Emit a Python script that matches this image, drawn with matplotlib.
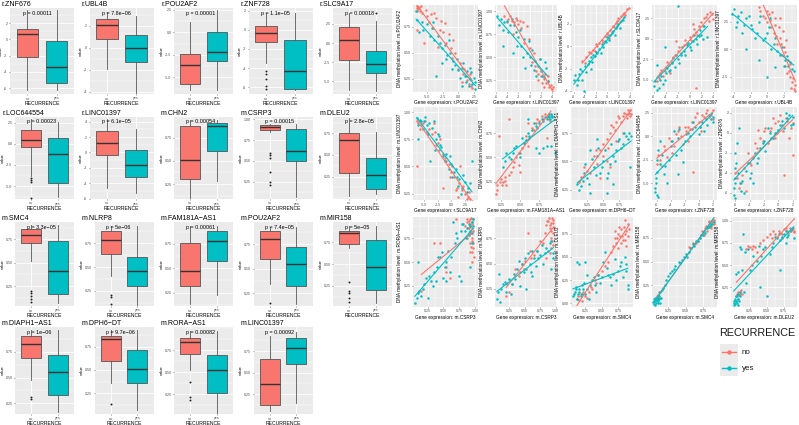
import numpy as np
import matplotlib
matplotlib.use('Agg')
import matplotlib.pyplot as plt
from matplotlib.ticker import FixedLocator, AutoMinorLocator, FormatStrFormatter
from matplotlib.patches import Rectangle

plt.rcParams['axes.unicode_minus'] = False
plt.rcParams['font.family'] = ['Liberation Sans', 'DejaVu Sans']

W, H = 799, 425
RED = '#F8766D'
TEAL = '#00BFC4'
BG = '#EBEBEB'

# ---------------- boxplot data ----------------
box_titles = ['r.ZNF676', 'r.UBL4B', 'r.POU2AF2', 'r.ZNF728', 'r.SLC9A17',
              'r.LOC644554', 'r.LINC01397', 'm.CHN2', 'm.CSRP3', 'm.DLEU2',
              'm.SMC4', 'm.NLRP8', 'm.FAM181A−AS1', 'm.POU2AF2', 'm.MIR158',
              'm.DIAPH1−AS1', 'm.DPH6−DT', 'm.RORA−AS1', 'm.LINC01397']
box_p = ['p = 0.00011', 'p = 7.8e−06', 'p = 0.00001', 'p = 1.1e−05', 'p = 0.00018',
         'p = 0.00023', 'p = 6.1e−05', 'p = 0.00054', 'p = 0.00015', 'p = 2.8e−05',
         'p = 3.3e−05', 'p = 5e−06', 'p = 0.00061', 'p = 7.4e−05', 'p = 5e−05',
         'p = 1e−06', 'p = 9.7e−06', 'p = 0.00082', 'p = 0.00092']
# (whislo, q1, median, q3, whishi)
box_no = [(-6.2, -2.2, 0.6, 1.26, 3.6), (-1.9, 0.77, 2.09, 2.62, 3.3),
          (-6.4, -5.8, -3.6, -2.4, 1.2), (-3.5, -1.25, -0.3, 0.35, 1.8),
          (-6.2, -2.2, 0.45, 2.15, 3.9),
          (-3.85, -0.4, 0.5, 1.6, 3.0), (-4.6, -0.3, 1.2, 2.85, 4.4),
          (0.10, 0.30, 0.51, 0.875, 0.94), (0.85, 0.87, 0.91, 0.935, 0.95),
          (0.02, 0.29, 0.67, 0.76, 0.93),
          (0.52, 0.71, 0.80, 0.857, 0.90), (0.41, 0.64, 0.79, 0.88, 0.93),
          (0.13, 0.32, 0.475, 0.757, 0.93), (0.34, 0.60, 0.80, 0.88, 0.92),
          (0.68, 0.73, 0.85, 0.88, 0.93),
          (0.48, 0.686, 0.825, 0.90, 0.96), (0.36, 0.60, 0.83, 0.865, 0.93),
          (0.52, 0.71, 0.845, 0.89, 0.97), (0.05, 0.12, 0.37, 0.66, 0.93)]
box_yes = [(-6.2, -5.3, -3.4, -0.2, 3.6), (-4.1, -1.3, 0.0, 1.17, 2.9),
           (-6.4, -3.2, -2.2, 0.0, 2.5), (-6.3, -6.2, -4.3, -1.1, 1.8),
           (-6.3, -3.9, -2.7, -1.05, 2.9),
           (-6.3, -4.7, -1.25, 0.7, 2.6), (-5.3, -3.2, -1.6, 0.35, 3.0),
           (0.28, 0.60, 0.875, 0.91, 0.94), (0.06, 0.50, 0.62, 0.89, 0.95),
           (0.05, 0.11, 0.27, 0.46, 0.77),
           (0.07, 0.16, 0.41, 0.735, 0.90), (0.10, 0.30, 0.455, 0.61, 0.93),
           (0.23, 0.575, 0.78, 0.88, 0.93), (0.14, 0.32, 0.545, 0.72, 0.92),
           (0.06, 0.20, 0.47, 0.78, 0.935),
           (0.17, 0.335, 0.555, 0.72, 0.96), (0.07, 0.36, 0.51, 0.715, 0.93),
           (0.03, 0.26, 0.52, 0.69, 0.97), (0.15, 0.60, 0.79, 0.90, 0.97)]
box_no_fliers = [[], [], [], [-4.35, -4.6, -5.15, -5.85, -6.2], [],
                 [-4.0, -4.25, -4.5, -6.4], [], [], [0.59, 0.57, 0.53, 0.37, 0.25, 0.21], [],
                 [0.20, 0.17, 0.14, 0.11, 0.08], [0.21, 0.18, 0.11], [], [0.15],
                 [0.30, 0.19, 0.17, 0.11, 0.07],
                 [0.31, 0.29], [0.135], [0.39, 0.22, 0.19], []]
box_yes_fliers = [[], [], [], [], [4.0],
                  [], [], [], [], [],
                  [], [], [], [], [],
                  [], [], [], []]
box_yticks = [[-6, -4, -2, 0, 2], [-4, -2, 0, 2], [-5.0, -2.5, 0.0, 2.5], [-6, -4, -2, 0, 2],
              [-5.0, -2.5, 0.0, 2.5],
              [-5.0, -2.5, 0.0, 2.5], [-6, -4, -2, 0, 2, 4], [0.25, 0.50, 0.75],
              [0.25, 0.50, 0.75, 1.00], [0.25, 0.50, 0.75],
              [0.25, 0.50, 0.75], [0.25, 0.50, 0.75], [0.25, 0.50, 0.75], [0.25, 0.50, 0.75],
              [0.25, 0.50, 0.75],
              [0.25, 0.50, 0.75], [0.25, 0.50, 0.75], [0.25, 0.50, 0.75], [0.25, 0.50, 0.75]]
box_fmt = ['%d', '%d', '%.1f', '%d', '%.1f', '%.1f', '%d', '%.2f', '%.2f', '%.2f',
           '%.2f', '%.2f', '%.2f', '%.2f', '%.2f', '%.2f', '%.2f', '%.2f', '%.2f']
box_ylim = [(-6.7, 3.85), (-4.21, 3.64), (-6.86, 2.72), (-6.7, 2.28), (-6.7, 4.6),
            (-6.54, 3.18), (-6.04, 4.61), (0.09, 0.97), (0.04, 1.03), (-0.01, 0.94),
            (0.036, 0.935), (0.09, 0.975), (0.113, 0.976), (0.12, 0.975), (0.02, 0.98),
            (0.146, 0.99), (0.028, 0.96), (0.028, 1.01), (0.02, 1.03)]
groups = ['no', 'yes']

# ---------------- scatter data ----------------
sc_x_label = ['r.POU2AF2', 'r.LINC01397', 'r.LINC01397', 'r.LINC01397', 'r.UBL4B',
              'r.SLC9A17', 'm.FAM181A−AS1', 'm.DPH6−DT', 'r.ZNF728', 'r.ZNF728',
              'm.CSRP3', 'm.CSRP3', 'm.SMC4', 'm.SMC4', 'm.DLEU2']
sc_y_label = ['m.POU2AF2', 'm.LINC01397', 'r.UBL4B', 'r.SLC9A17', 'r.LINC01397',
              'm.LINC01397', 'm.CHN2', 'm.DIAPH1−AS1', 'r.LOC644554', 'r.ZNF676',
              'm.RORA−AS1', 'm.NLRP8', 'm.DLEU2', 'm.MIR158', 'm.MIR158']
sc_no = [
    [(-6.6,0.93),(-6.5,0.95),(-6.4,0.92),(-6.3,0.94),(-6.1,0.90),(-5.8,0.88),(-5.0,0.85),(-4.3,0.87),(-3.5,0.84),(-2.8,0.81),(-3.0,0.72),(-1.5,0.68),(-2.0,0.60),(-0.8,0.62),(-1.0,0.45),(0.3,0.40),(0.8,0.30),(1.2,0.28),(1.6,0.20),(2.0,0.18),(-5.5,0.60),(0.5,0.22),
     (-6.5,0.90),(-6.2,0.93),(-6.0,0.95),(-5.2,0.91),(-4.6,0.80),(-4.0,0.74),(-3.8,0.88),(-2.5,0.70),(-2.2,0.79),(-1.2,0.55),(-0.5,0.50),(0.0,0.35),(0.9,0.35),(1.4,0.24),(2.2,0.16),(1.8,0.30),(-6.6,0.72),(-3.3,0.56)],
    [(-4.5,0.95),(-3.8,0.92),(-3.2,0.90),(-2.8,0.88),(-2.5,0.93),(-2.0,0.86),(-1.5,0.82),(-3.0,0.75),(-1.0,0.65),(0.0,0.60),(0.5,0.45),(1.0,0.40),(1.5,0.32),(2.0,0.30),(2.5,0.26),(3.0,0.22),(3.5,0.18),(4.0,0.15),(3.2,0.30),(1.8,0.48),
     (-4.0,0.88),(-3.5,0.95),(-2.2,0.91),(-1.8,0.90),(-1.2,0.88),(-0.5,0.84),(-0.2,0.70),(0.8,0.55),(1.2,0.35),(2.2,0.22),(2.8,0.32),(3.3,0.24),(3.8,0.20),(4.2,0.18),(2.6,0.18),(1.5,0.25)],
    [(-4.5,-1.3),(-3.8,-1.0),(-3.0,-0.6),(-2.5,-0.3),(-2.0,0.2),(-1.5,0.3),(-1.0,0.6),(-0.5,0.9),(0.0,1.2),(0.5,1.5),(1.0,1.8),(1.5,2.1),(2.0,2.5),(2.5,2.7),(3.0,3.0),(3.5,3.3),(2.8,2.9),(1.2,1.7),
     (-4.0,-1.5),(-3.3,-0.5),(-2.2,-0.4),(-1.8,0.0),(-0.8,0.4),(0.2,1.0),(0.8,1.3),(1.8,2.3),(2.2,2.2),(3.2,2.8),(3.8,3.4),(0.3,0.7)],
    [(-5.5,-5.2),(-5.0,-4.2),(-4.5,-4.5),(-4.0,-3.5),(-3.5,-3.2),(-3.0,-2.8),(-2.5,-2.0),(-2.0,-1.5),(-1.5,-1.8),(-1.0,-0.8),(-0.5,-0.5),(0.0,0.2),(0.5,0.5),(1.0,0.8),(1.5,1.5),(2.0,2.0),(2.5,2.5),(3.0,3.0),(3.5,3.2),(4.0,2.4),(-2.3,-0.3),(1.0,-6.0),
     (-5.2,-4.8),(-4.8,-3.8),(-4.2,-4.0),(-3.8,-2.8),(-2.8,-2.2),(-1.8,-1.0),(-0.8,-0.2),(0.2,-0.2),(0.8,1.2),(1.2,0.4),(2.2,1.6),(2.8,2.6),(3.2,2.2),(3.8,3.0),(-3.2,-4.2),(0.5,1.8)],
    [(-1.0,3.8),(-0.5,3.0),(0.0,2.5),(0.2,3.2),(0.5,2.0),(0.8,1.5),(1.0,2.2),(1.2,0.5),(1.5,1.0),(1.8,-0.5),(2.0,0.2),(2.2,-1.5),(2.5,-1.0),(2.8,-2.5),(3.0,-3.0),(3.2,-3.6),(3.3,-3.3),(2.6,-2.0),(1.6,2.8),(0.0,3.5),
     (-0.8,3.5),(-0.3,2.8),(0.4,2.6),(0.6,3.4),(0.9,2.8),(1.1,1.2),(1.4,2.0),(1.7,0.5),(2.1,-0.3),(2.3,0.8),(2.4,-2.2),(2.7,-1.4),(2.9,-3.5),(3.1,-2.6),(3.4,-3.8),(1.9,1.6)],
    [(-6.0,0.90),(-5.5,0.88),(-4.8,0.92),(-4.0,0.85),(-3.5,0.80),(-3.0,0.82),(-2.5,0.72),(-2.0,0.75),(-1.5,0.62),(-1.0,0.55),(-0.5,0.52),(0.0,0.45),(0.5,0.40),(1.0,0.30),(1.5,0.35),(2.0,0.28),(2.5,0.25),(3.0,0.22),(3.5,0.20),(-6.2,0.50),(1.6,0.50),(-1.5,0.30),
     (-6.2,0.92),(-5.8,0.85),(-5.2,0.90),(-4.5,0.82),(-3.2,0.90),(-2.8,0.70),(-2.2,0.65),(-1.2,0.58),(-0.2,0.40),(0.2,0.50),(0.8,0.28),(1.2,0.22),(2.2,0.32),(2.8,0.20),(3.2,0.26),(3.8,0.18)],
    [(0.18,0.12),(0.20,0.22),(0.25,0.28),(0.28,0.25),(0.30,0.30),(0.35,0.32),(0.40,0.40),(0.45,0.50),(0.50,0.55),(0.55,0.65),(0.60,0.62),(0.65,0.80),(0.70,0.85),(0.75,0.88),(0.80,0.90),(0.85,0.92),(0.88,0.95),(0.90,0.93),(0.35,0.90),(0.22,0.72),(0.50,0.35),(0.85,0.70),
     (0.19,0.16),(0.23,0.25),(0.26,0.22),(0.30,0.26),(0.32,0.22),(0.38,0.35),(0.42,0.45),(0.48,0.42),(0.52,0.60),(0.58,0.72),(0.62,0.70),(0.68,0.78),(0.72,0.90),(0.78,0.93),(0.82,0.95),(0.87,0.90),(0.89,0.88),(0.60,0.85)],
    [(0.12,0.32),(0.20,0.45),(0.30,0.40),(0.35,0.55),(0.40,0.48),(0.45,0.60),(0.50,0.55),(0.55,0.70),(0.60,0.75),(0.65,0.80),(0.70,0.85),(0.75,0.88),(0.80,0.90),(0.85,0.92),(0.88,0.95),(0.90,0.93),(0.92,0.90),(0.60,0.45),(0.45,0.35),(0.80,0.75),
     (0.15,0.36),(0.25,0.42),(0.38,0.60),(0.50,0.65),(0.58,0.62),(0.62,0.82),(0.68,0.78),(0.72,0.90),(0.78,0.85),(0.82,0.93),(0.86,0.88),(0.89,0.92),(0.91,0.95),(0.93,0.92),(0.70,0.68),(0.55,0.50)],
    [(-6.0,-3.0),(-5.5,-2.5),(-5.0,-1.0),(-4.5,-2.2),(-4.0,-0.5),(-3.5,-1.0),(-3.0,0.5),(-2.5,0.0),(-2.0,1.0),(-1.5,-0.5),(-1.0,1.5),(-0.5,2.0),(0.0,1.5),(0.5,2.2),(1.0,2.5),(1.5,2.0),(2.0,2.8),(-1.5,1.0),(-0.8,-3.8),(0.3,0.5),
     (-5.8,-2.0),(-5.2,-3.2),(-4.8,-1.5),(-4.2,-0.2),(-3.8,-1.8),(-3.2,0.2),(-2.8,1.0),(-2.2,-0.8),(-1.8,0.5),(-1.2,0.8),(-0.2,2.5),(0.2,1.0),(0.8,2.0),(1.2,2.8),(1.8,2.2),(2.0,1.8)],
    [(-6.0,-4.0),(-5.5,-5.5),(-5.0,-4.2),(-4.5,-5.8),(-4.0,-3.0),(-3.5,-2.5),(-3.0,-1.5),(-2.5,-0.5),(-2.0,0.2),(-1.5,-1.0),(-1.0,0.5),(-0.5,1.0),(0.0,1.2),(0.5,0.8),(1.0,1.5),(1.5,-0.5),(2.0,-2.2),(-2.8,0.3),(0.8,-4.2),(-0.2,0.0),
     (-5.8,-4.5),(-5.2,-5.0),(-4.8,-3.5),(-4.2,-2.0),(-3.8,-3.2),(-3.2,-1.0),(-2.2,-0.8),(-1.8,0.5),(-1.2,0.2),(-0.8,1.5),(0.2,1.8),(0.6,0.2),(1.2,1.2),(1.8,0.5),(2.0,1.0),(-0.5,-0.5)],
    [(0.15,0.20),(0.35,0.70),(0.55,0.45),(0.70,0.95),(0.85,0.88),(0.88,0.92),(0.90,0.85),(0.92,0.95),(0.93,0.90),(0.94,0.80),(0.95,0.92),(0.95,0.75),(0.96,0.85),(0.97,0.65),(0.97,0.95),(0.98,0.55),(0.96,0.60),(0.93,0.70),(0.90,0.80),(0.88,0.75),(0.60,0.33),
     (0.91,0.93),(0.92,0.88),(0.94,0.96),(0.96,0.90),(0.97,0.82),(0.95,0.72),(0.93,0.60),(0.89,0.85),(0.87,0.95),(0.97,0.70),(0.96,0.50),(0.94,0.66),(0.55,0.40),(0.45,0.70)],
    [(0.20,0.18),(0.25,0.22),(0.35,0.45),(0.40,0.38),(0.45,0.50),(0.50,0.52),(0.55,0.80),(0.60,0.55),(0.70,0.62),(0.80,0.70),(0.85,0.88),(0.88,0.92),(0.90,0.85),(0.92,0.75),(0.93,0.90),(0.95,0.93),(0.95,0.80),(0.96,0.68),(0.90,0.60),(0.85,0.55),
     (0.30,0.30),(0.42,0.42),(0.48,0.45),(0.58,0.62),(0.65,0.58),(0.75,0.72),(0.82,0.80),(0.86,0.92),(0.89,0.95),(0.91,0.88),(0.93,0.82),(0.94,0.95),(0.96,0.90),(0.97,0.85),(0.94,0.72),(0.92,0.65)],
    [(0.12,0.05),(0.18,0.10),(0.20,0.03),(0.25,0.08),(0.30,0.12),(0.35,0.15),(0.40,0.25),(0.45,0.30),(0.50,0.35),(0.60,0.45),(0.65,0.55),(0.70,0.70),(0.72,0.65),(0.75,0.75),(0.78,0.72),(0.80,0.80),(0.82,0.68),(0.85,0.75),(0.88,0.62),(0.90,0.85),(0.85,0.90),(0.75,0.60),
     (0.14,0.08),(0.16,0.04),(0.22,0.12),(0.28,0.06),(0.33,0.18),(0.42,0.22),(0.55,0.40),(0.68,0.62),(0.70,0.78),(0.74,0.70),(0.76,0.82),(0.79,0.65),(0.81,0.72),(0.84,0.82),(0.86,0.68),(0.88,0.78),(0.90,0.72),(0.92,0.80)],
    [(0.08,0.10),(0.10,0.12),(0.12,0.18),(0.09,0.14),(0.55,0.65),(0.65,0.70),(0.70,0.75),(0.75,0.80),(0.78,0.85),(0.80,0.82),(0.82,0.88),(0.85,0.90),(0.88,0.92),(0.90,0.90),(0.87,0.85),(0.72,0.78),(0.60,0.70),(0.83,0.93),
     (0.07,0.08),(0.09,0.10),(0.11,0.14),(0.13,0.12),(0.68,0.72),(0.74,0.82),(0.76,0.78),(0.79,0.88),(0.81,0.86),(0.84,0.92),(0.86,0.88),(0.89,0.93),(0.91,0.94),(0.62,0.68),(0.57,0.64)],
    [(0.05,0.15),(0.08,0.20),(0.10,0.18),(0.12,0.22),(0.20,0.68),(0.25,0.70),(0.30,0.72),(0.35,0.65),(0.45,0.78),(0.55,0.85),(0.60,0.88),(0.65,0.82),(0.70,0.86),(0.75,0.90),(0.80,0.88),(0.85,0.92),(0.88,0.90),(0.90,0.87),(0.72,0.80),(0.40,0.75),
     (0.06,0.18),(0.07,0.12),(0.09,0.16),(0.11,0.20),(0.13,0.18),(0.22,0.72),(0.28,0.68),(0.32,0.70),(0.50,0.82),(0.58,0.80),(0.62,0.85),(0.68,0.88),(0.73,0.85),(0.78,0.92),(0.82,0.86),(0.86,0.88),(0.89,0.92),(0.91,0.88)],
]
sc_yes = [
    [(-6.7,0.90),(-6.2,0.70),(-5.8,0.80),(-5.0,0.78),(-4.2,0.74),(-3.8,0.62),(-3.2,0.66),(-2.6,0.55),(-2.2,0.58),(-1.8,0.48),(-1.4,0.50),(-0.8,0.42),(-0.5,0.38),(0.0,0.34),(0.5,0.36),(1.0,0.28),(1.4,0.33),(1.8,0.25),(2.2,0.20),(2.6,0.15),(-3.5,0.28),(1.9,0.36),
     (-6.5,0.82),(-5.6,0.72),(-4.5,0.66),(-4.0,0.80),(-3.0,0.60),(-2.0,0.44),(-1.5,0.62),(-1.0,0.35),(-0.2,0.44),(0.3,0.26),(0.8,0.40),(1.2,0.22),(1.6,0.18),(2.0,0.32),(2.4,0.26),(2.7,0.22),(-2.6,0.40),(0.6,0.18)],
    [(-5.8,0.95),(-5.5,0.85),(-4.8,0.80),(-4.0,0.90),(-3.5,0.85),(-2.5,0.78),(-2.0,0.72),(-3.0,0.55),(-1.5,0.62),(-1.0,0.70),(-0.5,0.55),(0.0,0.50),(0.5,0.58),(1.0,0.46),(1.5,0.40),(2.0,0.35),(2.5,0.28),(-0.8,0.38),(2.8,0.45),(1.2,0.30),
     (-5.2,0.92),(-4.5,0.88),(-3.8,0.78),(-3.2,0.92),(-2.8,0.85),(-2.2,0.62),(-1.8,0.80),(-1.2,0.50),(-0.2,0.68),(0.3,0.42),(0.8,0.36),(1.8,0.48),(2.2,0.30),(3.0,0.38),(3.2,0.24),(-4.8,0.62)],
    [(-6.0,-3.0),(-5.5,-3.5),(-5.0,-2.5),(-4.5,-2.2),(-4.0,-1.8),(-3.5,-1.6),(-3.0,-1.0),(-2.5,-0.8),(-2.0,-0.5),(-1.5,-0.2),(-1.0,0.2),(-0.5,0.5),(0.0,0.8),(0.5,1.0),(1.0,1.4),(1.5,1.6),(2.0,2.0),(2.5,2.3),(3.0,2.6),(-4.2,-4.0),(-1.2,-0.6),
     (-5.8,-2.6),(-5.2,-3.0),(-4.8,-2.0),(-3.8,-2.3),(-3.2,-1.3),(-2.8,-1.4),(-2.2,-0.9),(-1.8,-0.6),(-0.8,-0.1),(-0.2,0.4),(0.3,0.6),(0.8,1.2),(1.3,1.0),(1.8,1.8),(2.2,1.6),(2.8,2.4),(-4.5,-3.0),(-3.0,-2.0)],
    [(-6.0,-5.8),(-5.5,-6.2),(-5.0,-5.0),(-4.5,-5.5),(-4.0,-4.2),(-3.5,-4.0),(-3.0,-3.0),(-2.5,-3.5),(-2.0,-2.5),(-1.5,-2.0),(-1.0,-1.5),(-0.5,-0.8),(0.0,-1.0),(0.5,-0.3),(1.0,0.0),(1.5,0.3),(2.0,0.5),(2.5,1.5),(-2.0,4.0),(-4.2,-1.0),(3.0,0.2),
     (-5.8,-5.2),(-5.2,-6.0),(-4.8,-4.6),(-4.2,-5.0),(-3.8,-3.6),(-3.2,-3.8),(-2.8,-2.4),(-2.2,-2.0),(-1.8,-3.0),(-1.2,-1.0),(-0.8,-2.0),(-0.2,-0.5),(0.3,-1.4),(0.8,0.5),(1.2,-0.6),(1.8,1.0),(2.2,0.0),(-5.5,-3.2)],
    [(-4.0,3.6),(-3.8,2.0),(-3.5,3.0),(-3.0,1.5),(-2.5,2.8),(-2.0,2.2),(-1.5,1.0),(-1.0,2.5),(-0.5,0.8),(0.0,1.5),(0.3,2.8),(0.5,0.0),(1.0,1.0),(1.5,-0.5),(2.0,-1.5),(2.2,-1.0),(2.5,-1.5),(3.0,-1.8),(-1.0,-1.0),(0.0,-2.5),
     (-4.2,3.2),(-3.6,2.5),(-3.2,3.4),(-2.8,2.2),(-2.2,3.0),(-1.8,1.8),(-1.2,1.5),(-0.8,3.0),(-0.2,1.0),(0.2,2.0),(0.8,0.5),(1.2,-0.2),(1.8,0.2),(2.4,-0.6),(2.8,-1.2),(3.2,-2.0),(-2.5,0.0),(1.0,-1.6)],
    [(-6.3,0.95),(-6.0,0.75),(-5.5,0.92),(-5.0,0.92),(-4.5,0.88),(-4.0,0.90),(-3.5,0.86),(-3.0,0.65),(-2.5,0.80),(-2.0,0.70),(-1.5,0.60),(-1.0,0.62),(-0.5,0.48),(0.0,0.52),(0.5,0.45),(1.0,0.40),(1.5,0.38),(2.0,0.30),(2.5,0.36),(3.0,0.30),(3.8,0.55),(-3.8,0.55),
     (-6.1,0.88),(-5.8,0.93),(-5.2,0.85),(-4.8,0.96),(-4.2,0.80),(-3.2,0.92),(-2.8,0.75),(-2.2,0.78),(-1.8,0.68),(-1.2,0.55),(-0.2,0.60),(0.2,0.40),(0.8,0.48),(1.2,0.32),(1.8,0.25),(2.2,0.42),(2.8,0.26),(3.5,0.35)],
    [(0.27,0.40),(0.32,0.55),(0.38,0.48),(0.42,0.60),(0.48,0.55),(0.52,0.70),(0.55,0.65),(0.60,0.75),(0.65,0.78),(0.70,0.82),(0.75,0.85),(0.80,0.88),(0.85,0.90),(0.88,0.92),(0.90,0.95),(0.92,0.93),(0.85,0.62),(0.70,0.60),(0.95,0.55),(0.60,0.90),
     (0.30,0.46),(0.35,0.50),(0.40,0.55),(0.45,0.62),(0.50,0.50),(0.58,0.68),(0.62,0.72),(0.68,0.85),(0.72,0.80),(0.78,0.90),(0.82,0.92),(0.86,0.93),(0.89,0.90),(0.91,0.92),(0.80,0.60),(0.75,0.55),(0.90,0.62),(0.88,0.95)],
    [(0.10,0.30),(0.15,0.28),(0.20,0.40),(0.25,0.35),(0.30,0.60),(0.35,0.45),(0.40,0.70),(0.45,0.40),(0.50,0.50),(0.55,0.35),(0.60,0.48),(0.65,0.55),(0.70,0.60),(0.75,0.70),(0.80,0.65),(0.85,0.72),(0.90,0.75),(0.92,0.45),(0.30,0.22),(0.55,0.22),(0.40,0.55),
     (0.12,0.25),(0.18,0.33),(0.22,0.48),(0.28,0.30),(0.33,0.52),(0.38,0.38),(0.42,0.62),(0.48,0.45),(0.52,0.60),(0.58,0.40),(0.62,0.65),(0.68,0.50),(0.72,0.68),(0.78,0.62),(0.82,0.75),(0.88,0.70),(0.93,0.72),(0.65,0.30)],
    [(-6.2,-6.0),(-6.0,-6.3),(-6.1,-4.5),(-6.0,-3.8),(-5.8,-1.5),(-5.5,-0.5),(-5.0,-4.0),(-4.5,-5.0),(-4.0,-1.0),(-3.5,0.5),(-3.0,-0.2),(-2.5,-1.5),(-2.0,-0.5),(-1.5,0.3),(-1.0,0.8),(-0.5,1.0),(0.0,0.2),(0.5,1.5),(1.0,1.8),(1.5,2.2),(2.0,1.5),(-3.0,-4.0),
     (-6.2,-5.5),(-6.1,-5.0),(-6.0,-2.5),(-5.9,-6.5),(-5.6,-3.0),(-5.2,-2.0),(-4.8,-3.2),(-4.2,-2.5),(-3.8,-0.5),(-3.2,-2.0),(-2.8,0.8),(-2.2,-2.8),(-1.8,0.2),(-1.2,0.0),(-0.8,1.5),(0.2,1.0),(0.8,0.5),(1.2,1.2),(1.8,1.8),(2.0,2.0)],
    [(-6.2,-6.2),(-6.0,-5.0),(-6.1,-3.5),(-6.0,-2.0),(-5.8,-1.0),(-5.5,0.5),(-5.2,-5.8),(-5.0,-4.8),(-4.5,-3.8),(-4.0,-4.5),(-3.5,-5.0),(-3.0,-3.0),(-2.5,-1.5),(-2.0,-0.8),(-1.5,0.5),(-1.0,-0.5),(-0.5,0.0),(0.0,0.3),(0.5,1.2),(1.0,2.0),(1.5,1.8),(2.0,0.9),
     (-6.2,-5.5),(-6.1,-4.5),(-6.0,-6.5),(-5.9,-3.0),(-5.6,-4.0),(-5.4,-5.0),(-4.8,-6.0),(-4.2,-3.0),(-3.8,-4.0),(-3.2,-2.0),(-2.8,-2.5),(-2.2,-1.0),(-1.8,-1.8),(-1.2,0.0),(-0.8,-0.5),(0.2,0.8),(0.8,0.5),(1.2,1.5),(1.8,0.8),(2.0,1.6)],
    [(0.05,0.07),(0.10,0.18),(0.15,0.15),(0.20,0.27),(0.25,0.12),(0.30,0.30),(0.35,0.40),(0.40,0.45),(0.45,0.55),(0.50,0.33),(0.55,0.50),(0.60,0.40),(0.65,0.92),(0.70,0.80),(0.75,0.35),(0.80,0.90),(0.85,0.82),(0.88,0.85),(0.90,0.90),(0.93,0.88),(0.95,0.80),(0.97,0.95),(0.92,0.45),(0.95,0.70),(0.10,0.50),(0.55,0.30),
     (0.08,0.12),(0.12,0.20),(0.18,0.22),(0.22,0.33),(0.28,0.35),(0.33,0.25),(0.38,0.30),(0.42,0.55),(0.48,0.60),(0.52,0.45),(0.58,0.62),(0.62,0.55),(0.68,0.70),(0.72,0.75),(0.78,0.82),(0.82,0.90),(0.86,0.75),(0.90,0.78),(0.93,0.82),(0.96,0.92),(0.97,0.88),(0.78,0.30)],
    [(0.05,0.15),(0.08,0.40),(0.12,0.25),(0.18,0.32),(0.22,0.30),(0.28,0.20),(0.32,0.40),(0.38,0.45),(0.42,0.28),(0.45,0.50),(0.50,0.55),(0.52,0.25),(0.55,0.60),(0.60,0.42),(0.65,0.55),(0.70,0.62),(0.75,0.58),(0.80,0.50),(0.85,0.65),(0.90,0.70),(0.95,0.60),(0.92,0.45),(0.30,0.30),(0.62,0.38),
     (0.07,0.22),(0.10,0.12),(0.15,0.30),(0.20,0.22),(0.25,0.35),(0.35,0.35),(0.40,0.52),(0.48,0.42),(0.52,0.45),(0.58,0.50),(0.62,0.62),(0.68,0.48),(0.72,0.55),(0.78,0.68),(0.82,0.60),(0.88,0.62),(0.93,0.72),(0.96,0.55)],
    [(0.08,0.10),(0.10,0.15),(0.12,0.05),(0.15,0.12),(0.18,0.08),(0.20,0.20),(0.22,0.15),(0.25,0.10),(0.28,0.30),(0.30,0.05),(0.35,0.25),(0.40,0.20),(0.45,0.30),(0.50,0.28),(0.55,0.55),(0.60,0.30),(0.65,0.20),(0.70,0.48),(0.75,0.35),(0.80,0.45),(0.85,0.50),(0.90,0.15),(0.12,0.45),(0.25,0.45),(0.88,0.35),
     (0.06,0.08),(0.09,0.12),(0.11,0.18),(0.13,0.10),(0.16,0.15),(0.20,0.10),(0.23,0.22),(0.27,0.15),(0.32,0.20),(0.38,0.28),(0.42,0.12),(0.48,0.22),(0.52,0.45),(0.58,0.38),(0.62,0.28),(0.68,0.32),(0.72,0.25),(0.78,0.40),(0.82,0.28),(0.88,0.42),(0.90,0.20),(0.15,0.42)],
    [(0.05,0.05),(0.06,0.10),(0.07,0.08),(0.08,0.12),(0.10,0.06),(0.11,0.15),(0.12,0.10),(0.14,0.18),(0.15,0.12),(0.18,0.22),(0.20,0.25),(0.25,0.35),(0.30,0.40),(0.35,0.45),(0.40,0.50),(0.45,0.52),(0.50,0.58),(0.55,0.60),(0.60,0.68),(0.65,0.72),(0.70,0.75),(0.75,0.78),(0.80,0.85),(0.85,0.88),(0.88,0.90),(0.78,0.80),(0.82,0.86),
     (0.04,0.07),(0.05,0.10),(0.06,0.04),(0.07,0.12),(0.08,0.06),(0.09,0.09),(0.10,0.11),(0.11,0.08),(0.12,0.14),(0.13,0.06),(0.16,0.20),(0.22,0.30),(0.28,0.38),(0.33,0.42),(0.42,0.48),(0.48,0.55),(0.52,0.55),(0.58,0.64),(0.62,0.66),(0.68,0.72),(0.72,0.78),(0.77,0.82),(0.84,0.86),(0.87,0.90),(0.90,0.92)],
    [(0.02,0.08),(0.03,0.12),(0.04,0.10),(0.05,0.40),(0.06,0.15),(0.07,0.05),(0.08,0.12),(0.10,0.20),(0.12,0.68),(0.15,0.85),(0.18,0.65),(0.20,0.30),(0.25,0.45),(0.30,0.60),(0.35,0.55),(0.40,0.25),(0.45,0.68),(0.50,0.15),(0.55,0.62),(0.60,0.75),(0.65,0.80),(0.70,0.78),(0.75,0.85),(0.80,0.82),(0.85,0.88),(0.90,0.80),(0.78,0.75),
     (0.01,0.05),(0.02,0.10),(0.03,0.06),(0.04,0.15),(0.05,0.10),(0.06,0.08),(0.07,0.18),(0.08,0.42),(0.09,0.10),(0.10,0.15),(0.11,0.70),(0.14,0.45),(0.16,0.20),(0.22,0.68),(0.28,0.50),(0.38,0.72),(0.42,0.60),(0.48,0.70),(0.58,0.70),(0.62,0.82),(0.68,0.85),(0.72,0.82),(0.78,0.88),(0.82,0.84),(0.88,0.90),(0.70,0.45)],
]
sc_xticks = [[-5.0, -2.5, 0.0, 2.5], [-6, -4, -2, 0, 2, 4], [-6, -4, -2, 0, 2, 4], [-6, -4, -2, 0, 2, 4], [-4, -2, 0, 2],
             [-5.0, -2.5, 0.0, 2.5], [0.25, 0.50, 0.75], [0.25, 0.50, 0.75], [-6, -4, -2, 0, 2], [-6, -4, -2, 0, 2],
             [0.25, 0.50, 0.75, 1.00], [0.25, 0.50, 0.75, 1.00], [0.25, 0.50, 0.75], [0.25, 0.50, 0.75], [0.25, 0.50, 0.75]]
sc_xfmt = ['%.1f', '%d', '%d', '%d', '%d', '%.1f', '%.2f', '%.2f', '%d', '%d', '%.2f', '%.2f', '%.2f', '%.2f', '%.2f']
sc_yticks = [[0.25, 0.50, 0.75], [0.25, 0.50, 0.75, 1.00], [-4, -2, 0, 2], [-5.0, -2.5, 0.0, 2.5], [-2.5, 0.0, 2.5],
             [0.25, 0.50, 0.75, 1.00], [0.25, 0.50, 0.75], [0.25, 0.50, 0.75], [-5.0, -2.5, 0.0, 2.5], [-6, -4, -2, 0, 2],
             [0.25, 0.50, 0.75], [0.25, 0.50, 0.75], [0.00, 0.25, 0.50, 0.75], [0.25, 0.50, 0.75], [0.25, 0.50, 0.75, 1.00]]
sc_yfmt = ['%.2f', '%.2f', '%d', '%.1f', '%.1f', '%.2f', '%.2f', '%.2f', '%.1f', '%d', '%.2f', '%.2f', '%.2f', '%.2f', '%.2f']
sc_xlim = [(-7.2, 3.1), (-6.2, 4.9), (-6.5, 4.6), (-6.3, 4.6), (-4.35, 3.6),
           (-7.0, 4.9), (0.17, 0.98), (0.0, 0.96), (-6.7, 2.6), (-6.6, 2.6),
           (0.02, 1.05), (0.02, 1.02), (0.03, 0.98), (0.02, 0.95), (-0.03, 0.95)]
sc_ylim = [(0.125, 0.96), (0.12, 1.07), (-4.1, 3.7), (-6.5, 4.1), (-3.9, 4.0),
           (0.19, 1.05), (0.06, 1.02), (0.16, 0.98), (-6.8, 3.1), (-6.7, 2.6),
           (0.03, 0.97), (0.07, 0.96), (-0.04, 0.93), (0.02, 0.97), (0.03, 1.04)]

# ---------------- layout (pixels) ----------------
box_outer_w = 79.5
box_row_top = [8, 117, 222, 327]
box_row_bot = [94, 199, 306, 414]
sc_col_left = [413, 495, 571, 652, 731]
sc_col_right = [478, 557, 633, 717, 797]
sc_row_top = [5, 107, 217]
sc_row_bot = [92, 200, 307]

fig = plt.figure(figsize=(W / 100, H / 100), dpi=100)


def add_ax(x0, y0, x1, y1):
    return fig.add_axes([x0 / W, 1 - y1 / H, (x1 - x0) / W, (y1 - y0) / H])


def style(ax):
    ax.set_facecolor(BG)
    for s in ax.spines.values():
        s.set_visible(False)
    ax.tick_params(which='major', length=1.0, width=0.4, color='#333333',
                   labelsize=2.6, labelcolor='#4D4D4D', pad=0.8)
    ax.tick_params(which='minor', length=0)
    ax.grid(which='major', color='white', linewidth=0.6)
    ax.grid(which='minor', color='white', linewidth=0.3)
    ax.set_axisbelow(True)


for i in range(19):
    r, c = divmod(i, 5)
    outer = c * box_outer_w
    wide = box_fmt[i] != '%d'
    left = outer + (15 if wide else 10)
    right = outer + 74
    ax = add_ax(left, box_row_top[r], right, box_row_bot[r])
    style(ax)
    stats = []
    for g, (b, fl) in enumerate([(box_no[i], box_no_fliers[i]), (box_yes[i], box_yes_fliers[i])]):
        stats.append(dict(whislo=b[0], q1=b[1], med=b[2], q3=b[3], whishi=b[4], fliers=fl, label=groups[g]))
    bp = ax.bxp(stats, positions=[1, 2], widths=0.75, patch_artist=True, showcaps=False,
                boxprops=dict(edgecolor='#555555', linewidth=0.6),
                whiskerprops=dict(color='#555555', linewidth=0.6),
                medianprops=dict(color='#333333', linewidth=1.0),
                flierprops=dict(marker='o', markersize=1.4, markerfacecolor='#222222',
                                markeredgecolor='none'))
    for patch, col in zip(bp['boxes'], [RED, TEAL]):
        patch.set_facecolor(col)
    ax.set_xlim(0.4, 2.6)
    ax.set_xticks([1, 2])
    ax.set_xticklabels(groups)
    ax.yaxis.set_major_locator(FixedLocator(box_yticks[i]))
    ax.yaxis.set_major_formatter(FormatStrFormatter(box_fmt[i]))
    ax.yaxis.set_minor_locator(AutoMinorLocator(2))
    ax.set_ylim(*box_ylim[i])
    ax.grid(axis='x', which='minor', visible=False)
    ax.set_xlabel('RECURRENCE', fontsize=3.7, labelpad=0.5)
    ax.set_ylabel('value', fontsize=3.0, labelpad=0.6)
    tx = (outer + 2 - left) / (right - left)
    ax.set_title(box_titles[i], fontsize=5.0, loc='left', pad=1.3, x=tx)
    ax.text(0.2, 0.94, box_p[i], transform=ax.transAxes, fontsize=3.9, va='center', ha='left')

for i in range(15):
    r, c = divmod(i, 5)
    ax = add_ax(sc_col_left[c], sc_row_top[r], sc_col_right[c], sc_row_bot[r])
    style(ax)
    for pts, col in [(sc_no[i], RED), (sc_yes[i], TEAL)]:
        xy = np.array(pts)
        ax.scatter(xy[:, 0], xy[:, 1], s=3.2, color=col, linewidths=0, zorder=3)
        k, b0 = np.polyfit(xy[:, 0], xy[:, 1], 1)
        xs = np.array([xy[:, 0].min(), xy[:, 0].max()])
        ax.plot(xs, k * xs + b0, color=col, linewidth=0.8, zorder=4)
    ax.xaxis.set_major_locator(FixedLocator(sc_xticks[i]))
    ax.xaxis.set_major_formatter(FormatStrFormatter(sc_xfmt[i]))
    ax.yaxis.set_major_locator(FixedLocator(sc_yticks[i]))
    ax.yaxis.set_major_formatter(FormatStrFormatter(sc_yfmt[i]))
    ax.xaxis.set_minor_locator(AutoMinorLocator(2))
    ax.yaxis.set_minor_locator(AutoMinorLocator(2))
    ax.set_xlim(*sc_xlim[i])
    ax.set_ylim(*sc_ylim[i])
    ax.set_xlabel('Gene expression: ' + sc_x_label[i], fontsize=3.4, labelpad=1)
    ax.set_ylabel('DNA methylation level: ' + sc_y_label[i], fontsize=3.4, labelpad=1)

# legend
lax = add_ax(715, 325, 799, 385)
lax.set_xlim(0, 84)
lax.set_ylim(60, 0)
lax.axis('off')
lax.text(4, 8, 'RECURRENCE', fontsize=7.8, va='center', ha='left', color='#1a1a1a')
for j, (lab, col) in enumerate(zip(groups, [RED, TEAL])):
    y0 = 19 + j * 16
    lax.add_patch(Rectangle((5, y0), 18, 16, facecolor=BG, edgecolor='none'))
    lax.plot([7, 21], [y0 + 8, y0 + 8], color=col, linewidth=1.0)
    lax.plot([14], [y0 + 8], marker='o', markersize=2.2, color=col)
    lax.text(27, y0 + 8, lab, fontsize=5.8, va='center', ha='left', color='#1a1a1a')

fig.savefig('out.png', dpi=100)
